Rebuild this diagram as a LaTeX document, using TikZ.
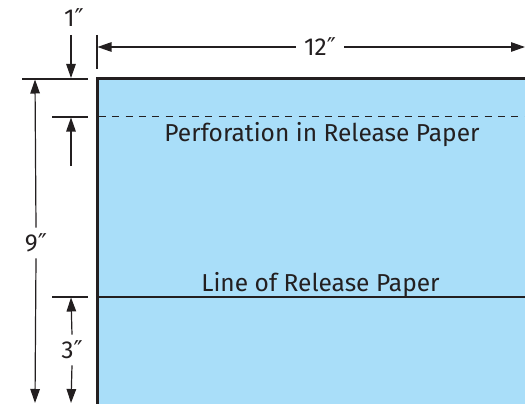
\documentclass[tikz,border=0pt]{standalone}
\usepackage{fontspec}
\setmainfont{Fira Sans}
\newfontfamily\primefont{DejaVu Sans}
\newcommand{\inch}{{\primefont ″}}
\usetikzlibrary{arrows.meta}
\definecolor{paper}{HTML}{A9DEF9}
\definecolor{ink}{HTML}{231F20}
\tikzset{
  dimline/.style={draw=ink, line width=1.2pt, -{Triangle[length=14pt,width=9.5pt]}},
  tickline/.style={draw=ink, line width=1.2pt},
  lbl/.style={text=ink, font=\fontsize{24.5}{27}\selectfont, inner sep=0pt},
}
\begin{document}
\begin{tikzpicture}[x=1pt,y=-1pt]
\useasboundingbox (0,0) rectangle (525,404);
\clip (0,0) rectangle (525,404);
% sheet
\fill[paper] (97,79) rectangle (530,410);
\coordinate (tl) at (97,79);
\coordinate (tr) at (530,79);
\coordinate (bl) at (97,410);
\draw[ink, line width=3pt] (bl) -- (tl) -- (tr);
% perforation
\coordinate (pl) at (99,116.5);
\coordinate (pr) at (530,116.5);
\draw[ink, line width=1pt, dash pattern=on 7pt off 6.3pt] (pl) -- (pr);
\node[lbl, anchor=base] (perf) at (322,141) {Perforation in Release Paper};
% line of release paper
\coordinate (ll) at (97,297);
\coordinate (lr) at (530,297);
\draw[ink, line width=1.2pt] (ll) -- (lr);
\node[lbl, anchor=base] (line) at (320.5,291) {Line of Release Paper};
% 12 inch dimension
\coordinate (t12a) at (97,35);
\coordinate (t12b) at (97,69);
\draw[tickline] (t12a) -- (t12b);
\node[lbl] (w12) at (320,47) {12\inch};
\coordinate (w12l) at (97.5,47);
\coordinate (w12r) at (525,47);
\draw[dimline] (w12.west) ++(-8,0) coordinate (w12s) -- (w12l);
\draw[dimline] (w12.east) ++(8,0) coordinate (w12e) -- (w12r);
% 1 inch dimension
\node[lbl] (one) at (74,18) {1\inch};
\coordinate (onea) at (71,35);
\coordinate (oneb) at (71,78);
\draw[dimline] (onea) -- (oneb);
\coordinate (tk1a) at (22,79);
\coordinate (tk1b) at (88,79);
\draw[tickline] (tk1a) -- (tk1b);
% 9 inch dimension
\node[lbl] (nine) at (36,243) {9\inch};
\coordinate (n9t) at (35,79.5);
\coordinate (n9b) at (35,403);
\draw[dimline] (nine.north) ++(0,-6) coordinate (n9s) -- (n9t);
\draw[dimline] (nine.south) ++(0,6) coordinate (n9e) -- (n9b);
% perforation tick and arrow
\coordinate (tk2a) at (52,117);
\coordinate (tk2b) at (88,117);
\draw[tickline] (tk2a) -- (tk2b);
\coordinate (p2a) at (71,166);
\coordinate (p2b) at (71,117.5);
\draw[dimline] (p2a) -- (p2b);
% 3 inch dimension
\coordinate (tk3a) at (52,297);
\coordinate (tk3b) at (88,297);
\draw[tickline] (tk3a) -- (tk3b);
\node[lbl] (three) at (72,350) {3\inch};
\coordinate (t3t) at (71,297.5);
\coordinate (t3b) at (71,403);
\draw[dimline] (three.north) ++(0,-6) coordinate (t3s) -- (t3t);
\draw[dimline] (three.south) ++(0,6) coordinate (t3e) -- (t3b);
\end{tikzpicture}
\end{document}
